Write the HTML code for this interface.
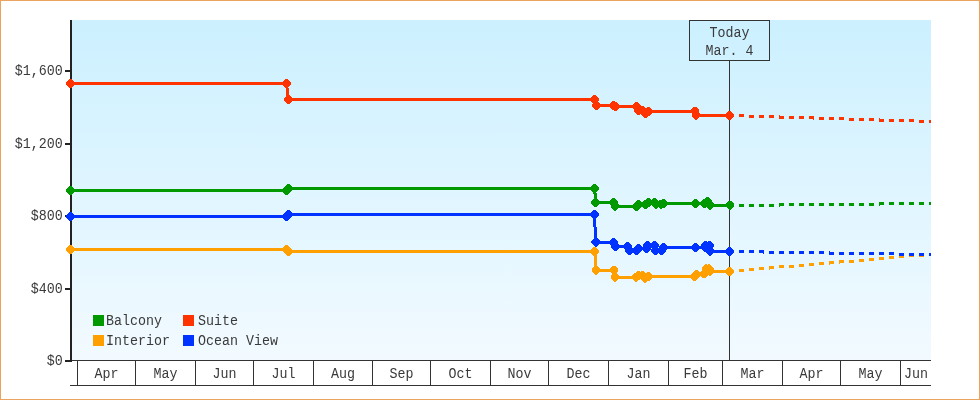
<!DOCTYPE html>
<html><head><meta charset="utf-8"><style>
html,body{margin:0;padding:0;background:#fff;}
body{width:980px;height:400px;overflow:hidden;position:relative;font-family:"Liberation Mono",monospace;}
svg{position:absolute;left:0;top:0;display:block;will-change:transform;}
</style></head><body>
<svg width="980" height="400" viewBox="0 0 980 400">
<defs>
<linearGradient id="bg" x1="0" y1="0" x2="0" y2="1">
<stop offset="0" stop-color="#CCF0FF"/>
<stop offset="1" stop-color="#F2FAFF"/>
</linearGradient>
<clipPath id="plot"><rect x="0" y="20" width="931" height="340"/></clipPath>
</defs>
<rect x="0.5" y="0.5" width="979" height="399" fill="#fff" stroke="#EAA45E" stroke-width="1"/>
<rect x="72" y="20" width="859" height="340" fill="url(#bg)"/>
<g fill="#333">
<rect x="72" y="360" width="859" height="1"/>
<rect x="70" y="385" width="861" height="1"/>
<rect x="77" y="360" width="1" height="25"/>
<rect x="135" y="360" width="1" height="25"/>
<rect x="195" y="360" width="1" height="25"/>
<rect x="253" y="360" width="1" height="25"/>
<rect x="313" y="360" width="1" height="25"/>
<rect x="372" y="360" width="1" height="25"/>
<rect x="430" y="360" width="1" height="25"/>
<rect x="490" y="360" width="1" height="25"/>
<rect x="548" y="360" width="1" height="25"/>
<rect x="608" y="360" width="1" height="25"/>
<rect x="668" y="360" width="1" height="25"/>
<rect x="722" y="360" width="1" height="25"/>
<rect x="782" y="360" width="1" height="25"/>
<rect x="840" y="360" width="1" height="25"/>
<rect x="900" y="360" width="1" height="25"/>
</g>
<text x="106.5" y="0" transform="translate(0 378) scale(1 1.106)" text-anchor="middle" font-family="Liberation Mono" font-size="13.33" fill="#3a3a3a">Apr</text>
<text x="165.5" y="0" transform="translate(0 378) scale(1 1.106)" text-anchor="middle" font-family="Liberation Mono" font-size="13.33" fill="#3a3a3a">May</text>
<text x="224.5" y="0" transform="translate(0 378) scale(1 1.106)" text-anchor="middle" font-family="Liberation Mono" font-size="13.33" fill="#3a3a3a">Jun</text>
<text x="283.5" y="0" transform="translate(0 378) scale(1 1.106)" text-anchor="middle" font-family="Liberation Mono" font-size="13.33" fill="#3a3a3a">Jul</text>
<text x="343" y="0" transform="translate(0 378) scale(1 1.106)" text-anchor="middle" font-family="Liberation Mono" font-size="13.33" fill="#3a3a3a">Aug</text>
<text x="401.5" y="0" transform="translate(0 378) scale(1 1.106)" text-anchor="middle" font-family="Liberation Mono" font-size="13.33" fill="#3a3a3a">Sep</text>
<text x="460.5" y="0" transform="translate(0 378) scale(1 1.106)" text-anchor="middle" font-family="Liberation Mono" font-size="13.33" fill="#3a3a3a">Oct</text>
<text x="519.5" y="0" transform="translate(0 378) scale(1 1.106)" text-anchor="middle" font-family="Liberation Mono" font-size="13.33" fill="#3a3a3a">Nov</text>
<text x="578.5" y="0" transform="translate(0 378) scale(1 1.106)" text-anchor="middle" font-family="Liberation Mono" font-size="13.33" fill="#3a3a3a">Dec</text>
<text x="638.5" y="0" transform="translate(0 378) scale(1 1.106)" text-anchor="middle" font-family="Liberation Mono" font-size="13.33" fill="#3a3a3a">Jan</text>
<text x="695.5" y="0" transform="translate(0 378) scale(1 1.106)" text-anchor="middle" font-family="Liberation Mono" font-size="13.33" fill="#3a3a3a">Feb</text>
<text x="752.5" y="0" transform="translate(0 378) scale(1 1.106)" text-anchor="middle" font-family="Liberation Mono" font-size="13.33" fill="#3a3a3a">Mar</text>
<text x="811.5" y="0" transform="translate(0 378) scale(1 1.106)" text-anchor="middle" font-family="Liberation Mono" font-size="13.33" fill="#3a3a3a">Apr</text>
<text x="870.5" y="0" transform="translate(0 378) scale(1 1.106)" text-anchor="middle" font-family="Liberation Mono" font-size="13.33" fill="#3a3a3a">May</text>
<text x="916" y="0" transform="translate(0 378) scale(1 1.106)" text-anchor="middle" font-family="Liberation Mono" font-size="13.33" fill="#3a3a3a">Jun</text>
<rect x="70" y="20" width="2" height="342" fill="#222"/>
<rect x="65" y="70" width="7" height="2" fill="#222"/>
<text x="62.8" y="0" transform="translate(0 74.75) scale(1 1.106)" text-anchor="end" font-family="Liberation Mono" font-size="13.33" fill="#3a3a3a">$1,600</text>
<rect x="65" y="143" width="7" height="2" fill="#222"/>
<text x="62.8" y="0" transform="translate(0 147.75) scale(1 1.106)" text-anchor="end" font-family="Liberation Mono" font-size="13.33" fill="#3a3a3a">$1,200</text>
<rect x="65" y="215" width="7" height="2" fill="#222"/>
<text x="62.8" y="0" transform="translate(0 219.75) scale(1 1.106)" text-anchor="end" font-family="Liberation Mono" font-size="13.33" fill="#3a3a3a">$800</text>
<rect x="65" y="288" width="7" height="2" fill="#222"/>
<text x="62.8" y="0" transform="translate(0 292.75) scale(1 1.106)" text-anchor="end" font-family="Liberation Mono" font-size="13.33" fill="#3a3a3a">$400</text>
<rect x="65" y="360" width="7" height="2" fill="#222"/>
<text x="62.8" y="0" transform="translate(0 364.75) scale(1 1.106)" text-anchor="end" font-family="Liberation Mono" font-size="13.33" fill="#3a3a3a">$0</text>
<rect x="729" y="60" width="1" height="300" fill="#333"/>
<rect x="689.5" y="20.5" width="80" height="40" fill="none" stroke="#333" stroke-width="1"/>
<text x="729.5" y="0" transform="translate(0 37) scale(1 1.106)" text-anchor="middle" font-family="Liberation Mono" font-size="13.33" fill="#3a3a3a">Today</text>
<text x="729.5" y="0" transform="translate(0 55) scale(1 1.106)" text-anchor="middle" font-family="Liberation Mono" font-size="13.33" fill="#3a3a3a">Mar. 4</text>
<rect x="93" y="315" width="11" height="11" fill="#009900"/>
<text x="106" y="0" transform="translate(0 325) scale(1 1.106)" text-anchor="start" font-family="Liberation Mono" font-size="13.33" fill="#3a3a3a">Balcony</text>
<rect x="183" y="315" width="11" height="11" fill="#FF3300"/>
<text x="198" y="0" transform="translate(0 325) scale(1 1.106)" text-anchor="start" font-family="Liberation Mono" font-size="13.33" fill="#3a3a3a">Suite</text>
<rect x="93" y="335" width="11" height="11" fill="#FFA000"/>
<text x="106" y="0" transform="translate(0 345) scale(1 1.106)" text-anchor="start" font-family="Liberation Mono" font-size="13.33" fill="#3a3a3a">Interior</text>
<rect x="183" y="335" width="11" height="11" fill="#0033FF"/>
<text x="198" y="0" transform="translate(0 345) scale(1 1.106)" text-anchor="start" font-family="Liberation Mono" font-size="13.33" fill="#3a3a3a">Ocean View</text>
<g clip-path="url(#plot)" shape-rendering="crispEdges">
<polyline points="70.5,249.1 286.4,249.25 288.3,251.3 594.75,251.5 596,270 613.5,270 615,277.3 636.1,277.3 638.1,275.5 642.6,275.5 645.2,278.2 648.5,276.5 694.4,276.3 696.7,274.7 703.8,273.8 706,268.7 709,268.9 709.8,271.3 729.5,271.3" fill="none" stroke="#FFA000" stroke-width="3" stroke-linejoin="round"/>
<path d="M739 269h5v3h-5ZM749 268h5v3h-5ZM759 267h5v3h-5ZM769 266h5v3h-5ZM779 265h5v3h-5ZM789 265h5v3h-5ZM799 264h5v3h-5ZM809 263h5v3h-5ZM819 262h5v3h-5ZM829 261h5v3h-5ZM839 260h5v3h-5ZM849 260h5v3h-5ZM859 259h5v3h-5ZM869 258h5v3h-5ZM879 257h5v3h-5ZM889 256h5v3h-5ZM899 255h5v3h-5ZM909 254h5v3h-5ZM919 254h5v3h-5ZM929 253h2v3h-2ZM769 269h1v1h-1ZM829 264h1v1h-1ZM839 263h1v1h-1Z" fill="#FFA000"/>
<path d="M69.5 244.6L71.5 244.6L75 248.1L75 250.1L71.5 253.6L69.5 253.6L66 250.1L66 248.1ZM285.4 244.75L287.4 244.75L290.9 248.25L290.9 250.25L287.4 253.75L285.4 253.75L281.9 250.25L281.9 248.25ZM287.3 246.8L289.3 246.8L292.8 250.3L292.8 252.3L289.3 255.8L287.3 255.8L283.8 252.3L283.8 250.3ZM593.75 247L595.75 247L599.25 250.5L599.25 252.5L595.75 256L593.75 256L590.25 252.5L590.25 250.5ZM595 265.5L597 265.5L600.5 269L600.5 271L597 274.5L595 274.5L591.5 271L591.5 269ZM612.5 265.5L614.5 265.5L618 269L618 271L614.5 274.5L612.5 274.5L609 271L609 269ZM614 272.8L616 272.8L619.5 276.3L619.5 278.3L616 281.8L614 281.8L610.5 278.3L610.5 276.3ZM635.1 272.8L637.1 272.8L640.6 276.3L640.6 278.3L637.1 281.8L635.1 281.8L631.6 278.3L631.6 276.3ZM637.1 271L639.1 271L642.6 274.5L642.6 276.5L639.1 280L637.1 280L633.6 276.5L633.6 274.5ZM641.6 271L643.6 271L647.1 274.5L647.1 276.5L643.6 280L641.6 280L638.1 276.5L638.1 274.5ZM644.2 273.7L646.2 273.7L649.7 277.2L649.7 279.2L646.2 282.7L644.2 282.7L640.7 279.2L640.7 277.2ZM647.5 272L649.5 272L653 275.5L653 277.5L649.5 281L647.5 281L644 277.5L644 275.5ZM693.4 271.8L695.4 271.8L698.9 275.3L698.9 277.3L695.4 280.8L693.4 280.8L689.9 277.3L689.9 275.3ZM695.7 270.2L697.7 270.2L701.2 273.7L701.2 275.7L697.7 279.2L695.7 279.2L692.2 275.7L692.2 273.7ZM702.8 269.3L704.8 269.3L708.3 272.8L708.3 274.8L704.8 278.3L702.8 278.3L699.3 274.8L699.3 272.8ZM705 264.2L707 264.2L710.5 267.7L710.5 269.7L707 273.2L705 273.2L701.5 269.7L701.5 267.7ZM708 264.4L710 264.4L713.5 267.9L713.5 269.9L710 273.4L708 273.4L704.5 269.9L704.5 267.9ZM708.8 266.8L710.8 266.8L714.3 270.3L714.3 272.3L710.8 275.8L708.8 275.8L705.3 272.3L705.3 270.3ZM728.5 266.8L730.5 266.8L734 270.3L734 272.3L730.5 275.8L728.5 275.8L725 272.3L725 270.3Z" fill="#FFA000"/>
<polyline points="70.5,216.3 286.5,216.3 288.3,214.4 594.4,214.4 595.8,242.1 613.6,242.5 615.4,246.4 627.5,246.5 629.3,250.5 636.4,250.5 638,248.5 646.4,248.3 647.9,245.5 654.3,245.5 655.7,250.5 661.4,250.5 663.6,247.5 695.4,247.2 704.9,247.2 705.6,245.5 709.5,245.7 710.3,251.2 729.5,251.5" fill="none" stroke="#0033FF" stroke-width="3" stroke-linejoin="round"/>
<path d="M739 250h5v3h-5ZM749 250h5v3h-5ZM759 250h5v3h-5ZM769 251h5v3h-5ZM779 251h5v3h-5ZM789 251h5v3h-5ZM799 251h5v3h-5ZM809 251h5v3h-5ZM819 251h5v3h-5ZM829 252h5v3h-5ZM839 252h5v3h-5ZM849 252h5v3h-5ZM859 252h5v3h-5ZM869 252h5v3h-5ZM879 252h5v3h-5ZM889 252h5v3h-5ZM899 253h5v3h-5ZM909 253h5v3h-5ZM919 253h5v3h-5ZM929 253h2v3h-2ZM763 253h1v1h-1ZM829 251h1v1h-1Z" fill="#0033FF"/>
<path d="M69.5 211.8L71.5 211.8L75 215.3L75 217.3L71.5 220.8L69.5 220.8L66 217.3L66 215.3ZM285.5 211.8L287.5 211.8L291 215.3L291 217.3L287.5 220.8L285.5 220.8L282 217.3L282 215.3ZM287.3 209.9L289.3 209.9L292.8 213.4L292.8 215.4L289.3 218.9L287.3 218.9L283.8 215.4L283.8 213.4ZM593.4 209.9L595.4 209.9L598.9 213.4L598.9 215.4L595.4 218.9L593.4 218.9L589.9 215.4L589.9 213.4ZM594.8 237.6L596.8 237.6L600.3 241.1L600.3 243.1L596.8 246.6L594.8 246.6L591.3 243.1L591.3 241.1ZM612.6 238L614.6 238L618.1 241.5L618.1 243.5L614.6 247L612.6 247L609.1 243.5L609.1 241.5ZM614.4 241.9L616.4 241.9L619.9 245.4L619.9 247.4L616.4 250.9L614.4 250.9L610.9 247.4L610.9 245.4ZM626.5 242L628.5 242L632 245.5L632 247.5L628.5 251L626.5 251L623 247.5L623 245.5ZM628.3 246L630.3 246L633.8 249.5L633.8 251.5L630.3 255L628.3 255L624.8 251.5L624.8 249.5ZM635.4 246L637.4 246L640.9 249.5L640.9 251.5L637.4 255L635.4 255L631.9 251.5L631.9 249.5ZM637 244L639 244L642.5 247.5L642.5 249.5L639 253L637 253L633.5 249.5L633.5 247.5ZM645.4 243.8L647.4 243.8L650.9 247.3L650.9 249.3L647.4 252.8L645.4 252.8L641.9 249.3L641.9 247.3ZM646.9 241L648.9 241L652.4 244.5L652.4 246.5L648.9 250L646.9 250L643.4 246.5L643.4 244.5ZM653.3 241L655.3 241L658.8 244.5L658.8 246.5L655.3 250L653.3 250L649.8 246.5L649.8 244.5ZM654.7 246L656.7 246L660.2 249.5L660.2 251.5L656.7 255L654.7 255L651.2 251.5L651.2 249.5ZM660.4 246L662.4 246L665.9 249.5L665.9 251.5L662.4 255L660.4 255L656.9 251.5L656.9 249.5ZM662.6 243L664.6 243L668.1 246.5L668.1 248.5L664.6 252L662.6 252L659.1 248.5L659.1 246.5ZM694.4 242.7L696.4 242.7L699.9 246.2L699.9 248.2L696.4 251.7L694.4 251.7L690.9 248.2L690.9 246.2ZM703.9 242.7L705.9 242.7L709.4 246.2L709.4 248.2L705.9 251.7L703.9 251.7L700.4 248.2L700.4 246.2ZM704.6 241L706.6 241L710.1 244.5L710.1 246.5L706.6 250L704.6 250L701.1 246.5L701.1 244.5ZM708.5 241.2L710.5 241.2L714 244.7L714 246.7L710.5 250.2L708.5 250.2L705 246.7L705 244.7ZM709.3 246.7L711.3 246.7L714.8 250.2L714.8 252.2L711.3 255.7L709.3 255.7L705.8 252.2L705.8 250.2ZM728.5 247L730.5 247L734 250.5L734 252.5L730.5 256L728.5 256L725 252.5L725 250.5Z" fill="#0033FF"/>
<polyline points="70.5,190.5 286.5,190.5 288.3,188.5 594.6,188.3 595.7,202.3 613.5,202.5 615,206.2 636.6,206.4 638.4,204.3 645.6,204.3 648,202.5 654.3,202.5 655.8,204.3 661.2,204.3 663,203.5 695.4,203.6 704.5,203.5 707,201.5 710,205 729.5,205" fill="none" stroke="#009900" stroke-width="3" stroke-linejoin="round"/>
<path d="M739 204h5v3h-5ZM749 204h5v3h-5ZM759 204h5v3h-5ZM769 204h5v3h-5ZM779 203h5v3h-5ZM789 203h5v3h-5ZM799 203h5v3h-5ZM809 203h5v3h-5ZM819 203h5v3h-5ZM829 203h5v3h-5ZM839 203h5v3h-5ZM849 203h5v3h-5ZM859 203h5v3h-5ZM869 203h5v3h-5ZM879 202h5v3h-5ZM889 202h5v3h-5ZM899 202h5v3h-5ZM909 202h5v3h-5ZM919 202h5v3h-5ZM929 202h2v3h-2ZM779 206h1v1h-1ZM879 205h1v1h-1Z" fill="#009900"/>
<path d="M69.5 186L71.5 186L75 189.5L75 191.5L71.5 195L69.5 195L66 191.5L66 189.5ZM285.5 186L287.5 186L291 189.5L291 191.5L287.5 195L285.5 195L282 191.5L282 189.5ZM287.3 184L289.3 184L292.8 187.5L292.8 189.5L289.3 193L287.3 193L283.8 189.5L283.8 187.5ZM593.6 183.8L595.6 183.8L599.1 187.3L599.1 189.3L595.6 192.8L593.6 192.8L590.1 189.3L590.1 187.3ZM594.7 197.8L596.7 197.8L600.2 201.3L600.2 203.3L596.7 206.8L594.7 206.8L591.2 203.3L591.2 201.3ZM612.5 198L614.5 198L618 201.5L618 203.5L614.5 207L612.5 207L609 203.5L609 201.5ZM614 201.7L616 201.7L619.5 205.2L619.5 207.2L616 210.7L614 210.7L610.5 207.2L610.5 205.2ZM635.6 201.9L637.6 201.9L641.1 205.4L641.1 207.4L637.6 210.9L635.6 210.9L632.1 207.4L632.1 205.4ZM637.4 199.8L639.4 199.8L642.9 203.3L642.9 205.3L639.4 208.8L637.4 208.8L633.9 205.3L633.9 203.3ZM644.6 199.8L646.6 199.8L650.1 203.3L650.1 205.3L646.6 208.8L644.6 208.8L641.1 205.3L641.1 203.3ZM647 198L649 198L652.5 201.5L652.5 203.5L649 207L647 207L643.5 203.5L643.5 201.5ZM653.3 198L655.3 198L658.8 201.5L658.8 203.5L655.3 207L653.3 207L649.8 203.5L649.8 201.5ZM654.8 199.8L656.8 199.8L660.3 203.3L660.3 205.3L656.8 208.8L654.8 208.8L651.3 205.3L651.3 203.3ZM660.2 199.8L662.2 199.8L665.7 203.3L665.7 205.3L662.2 208.8L660.2 208.8L656.7 205.3L656.7 203.3ZM662 199L664 199L667.5 202.5L667.5 204.5L664 208L662 208L658.5 204.5L658.5 202.5ZM694.4 199.1L696.4 199.1L699.9 202.6L699.9 204.6L696.4 208.1L694.4 208.1L690.9 204.6L690.9 202.6ZM703.5 199L705.5 199L709 202.5L709 204.5L705.5 208L703.5 208L700 204.5L700 202.5ZM706 197L708 197L711.5 200.5L711.5 202.5L708 206L706 206L702.5 202.5L702.5 200.5ZM709 200.5L711 200.5L714.5 204L714.5 206L711 209.5L709 209.5L705.5 206L705.5 204ZM728.5 200.5L730.5 200.5L734 204L734 206L730.5 209.5L728.5 209.5L725 206L725 204Z" fill="#009900"/>
<polyline points="70.5,83.5 286.5,83.5 288.3,99.5 594.7,99.3 596.3,105.5 613.8,105.5 615.6,106.2 636.4,106.5 638,110.5 642.4,110.7 645.4,113.4 648.4,111.3 694.7,111.1 696.3,115.2 729.5,115.3" fill="none" stroke="#FF3300" stroke-width="3" stroke-linejoin="round"/>
<path d="M739 114h5v3h-5ZM749 115h5v3h-5ZM759 115h5v3h-5ZM769 115h5v3h-5ZM779 116h5v3h-5ZM789 116h5v3h-5ZM799 116h5v3h-5ZM809 116h5v3h-5ZM819 117h5v3h-5ZM829 117h5v3h-5ZM839 117h5v3h-5ZM849 118h5v3h-5ZM859 118h5v3h-5ZM869 118h5v3h-5ZM879 119h5v3h-5ZM889 119h5v3h-5ZM899 119h5v3h-5ZM909 119h5v3h-5ZM919 120h5v3h-5ZM929 120h2v3h-2ZM779 115h1v1h-1ZM813 119h1v1h-1ZM879 118h1v1h-1Z" fill="#FF3300"/>
<path d="M69.5 79L71.5 79L75 82.5L75 84.5L71.5 88L69.5 88L66 84.5L66 82.5ZM285.5 79L287.5 79L291 82.5L291 84.5L287.5 88L285.5 88L282 84.5L282 82.5ZM287.3 95L289.3 95L292.8 98.5L292.8 100.5L289.3 104L287.3 104L283.8 100.5L283.8 98.5ZM593.7 94.8L595.7 94.8L599.2 98.3L599.2 100.3L595.7 103.8L593.7 103.8L590.2 100.3L590.2 98.3ZM595.3 101L597.3 101L600.8 104.5L600.8 106.5L597.3 110L595.3 110L591.8 106.5L591.8 104.5ZM612.8 101L614.8 101L618.3 104.5L618.3 106.5L614.8 110L612.8 110L609.3 106.5L609.3 104.5ZM614.6 101.7L616.6 101.7L620.1 105.2L620.1 107.2L616.6 110.7L614.6 110.7L611.1 107.2L611.1 105.2ZM635.4 102L637.4 102L640.9 105.5L640.9 107.5L637.4 111L635.4 111L631.9 107.5L631.9 105.5ZM637 106L639 106L642.5 109.5L642.5 111.5L639 115L637 115L633.5 111.5L633.5 109.5ZM641.4 106.2L643.4 106.2L646.9 109.7L646.9 111.7L643.4 115.2L641.4 115.2L637.9 111.7L637.9 109.7ZM644.4 108.9L646.4 108.9L649.9 112.4L649.9 114.4L646.4 117.9L644.4 117.9L640.9 114.4L640.9 112.4ZM647.4 106.8L649.4 106.8L652.9 110.3L652.9 112.3L649.4 115.8L647.4 115.8L643.9 112.3L643.9 110.3ZM693.7 106.6L695.7 106.6L699.2 110.1L699.2 112.1L695.7 115.6L693.7 115.6L690.2 112.1L690.2 110.1ZM695.3 110.7L697.3 110.7L700.8 114.2L700.8 116.2L697.3 119.7L695.3 119.7L691.8 116.2L691.8 114.2ZM728.5 110.8L730.5 110.8L734 114.3L734 116.3L730.5 119.8L728.5 119.8L725 116.3L725 114.3Z" fill="#FF3300"/>
</g>
</svg></body></html>
